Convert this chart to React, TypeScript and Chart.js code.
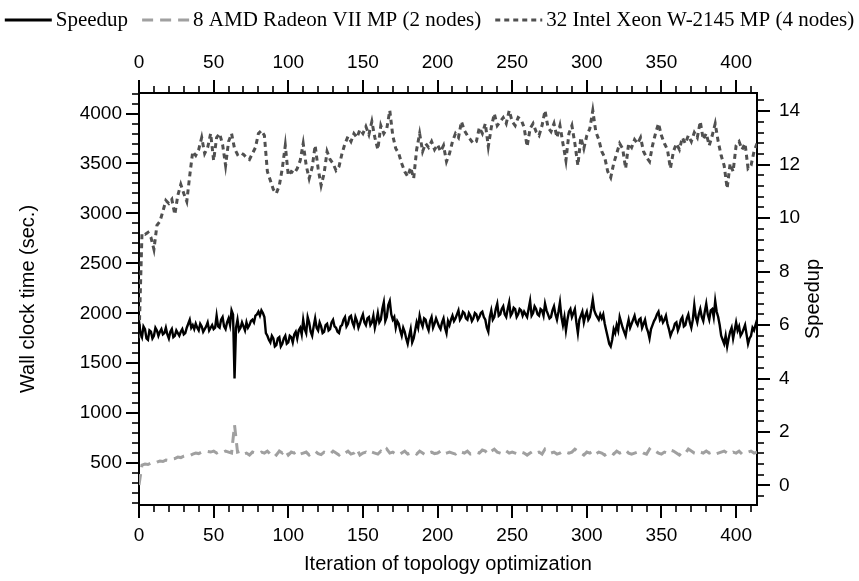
import React, { useEffect, useRef } from "react";
import { Chart, registerables } from "chart.js";

Chart.register(...registerables);

const W = 859;
const H = 581;

// ---------------- data ----------------
// wall clock times: one value every 2 iterations
const TIME_STEP = 2;

const INTEL_TIME = [
  1750, 2800, 2790, 2810, 2760, 2640, 2880, 2920, 3020, 3130,
  3100, 3140, 2990, 3180, 3290, 3200, 3120, 3380, 3620, 3580,
  3640, 3760, 3600, 3660, 3800, 3530, 3760, 3800, 3690, 3480,
  3720, 3800, 3650, 3590, 3610, 3590, 3560, 3540, 3600, 3660,
  3800, 3830, 3780, 3420, 3330, 3240, 3200, 3280, 3450, 3680,
  3380, 3420, 3400, 3450, 3530, 3700, 3480, 3350, 3460, 3680,
  3450, 3280, 3400, 3620, 3540, 3500, 3430, 3470, 3600, 3700,
  3770, 3720, 3800, 3760, 3840, 3800, 3870, 3790, 3920, 3760,
  3640, 3880, 3800, 3850, 4030, 3780, 3650, 3600, 3500, 3420,
  3370, 3460, 3350, 3640, 3800, 3620, 3700, 3660, 3720, 3640,
  3690, 3620, 3680, 3520, 3600, 3720, 3800, 3760, 3920, 3830,
  3780, 3740, 3700, 3720, 3860, 3800, 3900, 3670, 3860, 4000,
  3880, 3920, 3960, 3900, 4030, 3920, 3880, 3960, 3940, 3860,
  3670, 3850, 3900, 3820, 3780, 3880, 4030, 3860, 3820, 3900,
  3760, 3880, 3700, 3530, 3800, 3880, 3700, 3480, 3760, 3650,
  3780, 3850, 4030, 3820, 3740, 3620, 3560, 3420, 3360, 3500,
  3600, 3700, 3650, 3450, 3700, 3660, 3740, 3700, 3760, 3620,
  3560, 3520, 3680, 3800, 3900, 3780, 3700, 3640, 3450, 3620,
  3700, 3640, 3760, 3700, 3780, 3720, 3810, 3760, 3920, 3740,
  3800, 3680, 3780, 3900, 3720, 3580, 3480, 3250, 3500, 3420,
  3680, 3720, 3640, 3700, 3450, 3480, 3620, 3700,
];

const AMD_TIME = [
  280, 480, 490, 485, 500, 495, 510, 520, 515, 530,
  525, 540, 545, 560, 555, 570, 580, 575, 590, 600,
  595, 610, 605, 615, 610, 620, 600, 615, 605, 620,
  610, 600, 880, 610, 620, 590, 600, 580, 610, 600,
  595, 610, 600, 620, 590, 610, 580, 620, 600, 630,
  580, 610, 600, 620, 590, 600, 610, 580, 600, 620,
  595, 585, 610, 600, 590, 620, 600, 580, 610, 600,
  620, 590, 600, 640, 580, 600, 610, 590, 610, 600,
  590, 620, 600, 640, 600, 610, 590, 580, 600, 620,
  590, 600, 610, 590, 620, 600, 580, 600, 610, 595,
  600, 620, 590, 600, 610, 600, 590, 620, 610, 600,
  620, 590, 600, 610, 600, 630, 620, 590, 620, 640,
  610, 600, 590, 620, 600, 610, 600, 590, 610, 600,
  580, 600, 620, 600, 610, 590, 640, 620, 600, 610,
  590, 600, 620, 610, 600, 610, 640, 620, 600, 580,
  610, 600, 620, 590, 610, 600, 580, 600, 610, 590,
  620, 600, 610, 630, 600, 590, 600, 610, 620, 600,
  590, 640, 610, 620, 600, 590, 610, 600, 630, 620,
  600, 580, 610, 600, 640, 620, 600, 590, 610, 600,
  620, 600, 610, 590, 600, 610, 620, 600, 590, 610,
  600, 620, 590, 600, 610, 620, 600, 610,
];

// speedup: one value every iteration (0 .. 414)
const SPEEDUP = [
  6.15, 5.7, 5.55, 5.95, 5.85, 5.5, 5.45, 5.8, 5.75, 5.5,
  5.6, 5.9, 5.8, 5.6, 5.75, 5.85, 5.65, 5.7, 5.9, 5.65,
  5.5, 5.75, 5.85, 5.55, 5.6, 5.8, 5.7, 5.6, 5.75, 5.85,
  5.65, 5.7, 5.9, 6.05, 6.2, 5.9, 6.0, 5.85, 6.05, 5.9,
  5.8, 6.05, 5.95, 5.75, 5.85, 5.95, 6.1, 5.8, 5.9, 6.0,
  5.85, 5.9, 6.35, 5.95, 5.9, 6.2, 6.3, 5.95, 5.85, 6.1,
  6.25, 6.0, 6.55, 6.4, 4.0, 5.9, 6.2, 5.8, 5.9, 6.1,
  5.95, 5.8, 6.1, 5.9, 6.0, 6.15, 6.2, 6.1, 6.35, 6.4,
  6.5, 6.35, 6.55, 6.45, 6.3, 5.7, 5.6, 5.45, 5.35, 5.6,
  5.5, 5.2, 5.25, 5.5, 5.55, 5.2, 5.3, 5.5, 5.6, 5.3,
  5.35, 5.6, 5.55, 5.35, 5.65, 5.75, 5.5, 5.8, 5.9, 5.65,
  6.2, 5.85, 5.7, 6.3, 6.1, 5.75, 5.6, 5.95, 6.25, 5.9,
  5.8, 6.1, 5.95, 5.7, 5.75, 6.0, 6.05, 5.8, 5.85, 6.1,
  6.2, 5.95, 5.9, 5.75, 5.7, 5.95, 6.0, 6.2, 6.3, 5.95,
  6.05, 6.3, 6.35, 6.1, 5.95, 6.3, 6.15, 5.9, 6.05, 6.25,
  6.4, 6.1, 6.0, 6.25, 6.3, 6.0, 6.1, 6.35, 5.9, 6.15,
  6.45, 6.1, 6.2, 6.6, 6.85, 6.15, 6.3, 6.75, 6.9, 6.4,
  6.2, 6.3, 5.9, 6.15, 6.05, 5.8, 5.6, 5.9, 5.75, 5.5,
  5.3, 5.6, 5.85, 5.35, 5.5, 5.8, 6.1, 5.9, 6.35, 6.1,
  5.95, 6.25, 6.2, 5.95, 5.8, 6.15, 6.3, 5.9, 6.05, 6.25,
  6.1, 5.95, 5.85, 6.1, 6.25, 5.9, 5.7, 6.15, 6.0, 6.2,
  6.35, 6.15, 6.25, 6.4, 6.55, 6.2, 6.3, 6.5, 6.45, 6.25,
  6.2, 6.45, 6.35, 6.15, 6.25, 6.45, 6.4, 6.2, 6.3, 6.45,
  6.5, 6.3, 6.2, 5.9, 5.75, 6.3, 6.55, 6.2, 6.3, 6.6,
  6.8, 6.35, 6.4, 6.6, 6.7, 6.4, 6.3, 6.6, 6.85, 6.35,
  6.45, 6.65, 6.6, 6.3, 6.4, 6.6, 6.55, 6.35, 6.5, 6.4,
  6.3, 6.6, 6.9, 6.35, 6.45, 6.7, 6.6, 6.4, 6.35, 6.6,
  6.55, 6.35, 6.8, 6.55, 6.4, 6.25, 6.3, 6.55, 6.7, 6.4,
  6.2, 6.5, 6.85, 6.3, 6.0, 6.3, 5.8, 6.2, 6.5, 6.6,
  6.3, 6.45, 6.6, 6.1, 5.7, 6.2, 6.35, 6.5, 6.1, 6.35,
  6.5, 6.2, 6.3, 6.6, 6.95, 6.55, 6.4, 6.3, 6.2, 6.4,
  6.25, 6.4, 6.05, 5.8, 5.55, 5.3, 5.2, 5.45, 5.85, 5.7,
  6.0, 5.8, 6.3, 6.1, 5.9, 5.75, 5.6, 5.95, 6.2, 5.9,
  6.05, 6.2, 6.35, 6.1, 6.0, 6.2, 6.25, 5.9, 6.05, 6.2,
  5.9, 5.75, 5.5, 5.85, 6.0, 6.15, 6.25, 6.4, 6.5, 6.2,
  6.3, 6.1, 6.2, 6.35, 6.05, 5.85, 5.6, 5.75, 5.85, 6.05,
  6.1, 5.8, 5.95, 6.2, 6.3, 5.95, 6.0, 6.25, 6.4, 6.1,
  5.9, 6.2, 6.75, 6.3, 6.1, 6.4, 6.6, 6.3, 6.15, 6.5,
  6.8, 6.4, 6.2, 6.55, 6.6, 6.3, 6.9, 6.5, 6.3, 6.0,
  5.6, 5.45, 5.3, 5.6, 5.2, 5.5, 5.75, 5.9, 5.5, 5.8,
  6.1, 5.8, 5.95, 5.6, 5.7, 5.85, 6.0, 5.65, 5.3, 5.5,
  5.6, 5.9, 5.8, 6.0, 6.2,
];

const TIME_ITERATIONS = INTEL_TIME.map((_, i) => i * TIME_STEP);
const SPEEDUP_ITERATIONS = SPEEDUP.map((_, i) => i);

const SERIES_LABELS = [
  "Speedup",
  "8 AMD Radeon VII MP (2 nodes)",
  "32 Intel Xeon W-2145 MP (4 nodes)",
];

// ---------------- axes ----------------
const X_TICKS = [0, 50, 100, 150, 200, 250, 300, 350, 400];
const LEFT_TICKS = [500, 1000, 1500, 2000, 2500, 3000, 3500, 4000];
const RIGHT_TICKS = [0, 2, 4, 6, 8, 10, 12, 14];
const X_MINOR_STEP = 10;
const LEFT_MINOR_STEP = 100;
const RIGHT_MINOR_STEP = 0.4;

const X_MIN = 0;
const X_MAX = 414;
const LEFT_MIN = 80;
const LEFT_MAX = 4206;
const RIGHT_MIN = -0.73;
const RIGHT_MAX = 14.68;

const X_TITLE = "Iteration of topology optimization";
const LEFT_TITLE = "Wall clock time (sec.)";
const RIGHT_TITLE = "Speedup";

// ---------------- style ----------------
const SANS = "'Liberation Sans', Arial, Helvetica, sans-serif";
const SERIF = "'Liberation Serif', 'Times New Roman', serif";
const TICK_FONT = { family: SANS, size: 19 };
const TITLE_FONT = { family: SANS, size: 20 };
const MAJOR_LEN = 13;
const MINOR_LEN = 7;

function isMajor(v: number, majors: number[]) {
  return majors.some((m) => Math.abs(m - v) < 1e-6);
}

const decorPlugin = {
  id: "decor",
  afterDraw(chart: any) {
    const { ctx, chartArea: a, scales } = chart;
    ctx.save();
    ctx.strokeStyle = "#000";
    ctx.lineCap = "butt";
    const sets = [
      { scale: scales.x, majors: X_TICKS, step: X_MINOR_STEP, side: "bottom" },
      { scale: scales.x2, majors: X_TICKS, step: X_MINOR_STEP, side: "top" },
      { scale: scales.y, majors: LEFT_TICKS, step: LEFT_MINOR_STEP, side: "left" },
      { scale: scales.y2, majors: RIGHT_TICKS, step: RIGHT_MINOR_STEP, side: "right" },
    ];
    for (const s of sets) {
      const k0 = Math.ceil(s.scale.min / s.step - 1e-6);
      const k1 = Math.floor(s.scale.max / s.step + 1e-6);
      for (let k = k0; k <= k1; k++) {
        const v = k * s.step;
        const major = isMajor(v, s.majors);
        const len = major ? MAJOR_LEN : MINOR_LEN;
        ctx.lineWidth = major ? 2 : 1.6;
        const p = Math.round(s.scale.getPixelForValue(v));
        ctx.beginPath();
        if (s.side === "bottom") {
          ctx.moveTo(p, a.bottom);
          ctx.lineTo(p, a.bottom + len);
        } else if (s.side === "top") {
          ctx.moveTo(p, a.top);
          ctx.lineTo(p, a.top - len);
        } else if (s.side === "left") {
          ctx.moveTo(a.left, p);
          ctx.lineTo(a.left - len, p);
        } else {
          ctx.moveTo(a.right, p);
          ctx.lineTo(a.right + len, p);
        }
        ctx.stroke();
      }
    }

    // right axis title (reads bottom to top)
    ctx.save();
    ctx.fillStyle = "#000";
    ctx.font = `${TITLE_FONT.size}px ${SANS}`;
    ctx.textAlign = "center";
    ctx.textBaseline = "middle";
    ctx.translate(813, (a.top + a.bottom) / 2);
    ctx.rotate(-Math.PI / 2);
    ctx.fillText(RIGHT_TITLE, 0, 0);
    ctx.restore();

    // legend across the top
    ctx.font = `21px ${SERIF}`;
    const sample = 47;
    const gapText = 4;
    const gapItem = 14;
    const ds = chart.data.datasets;
    const widths = ds.map((d: any) => ctx.measureText(d.label).width);
    const total =
      widths.reduce((s: number, w: number) => s + w + sample + gapText, 0) +
      gapItem * (ds.length - 1);
    let x = (W - total) / 2;
    const y = 20;
    ds.forEach((d: any, i: number) => {
      ctx.save();
      ctx.strokeStyle = d.borderColor;
      ctx.lineWidth = 3;
      ctx.setLineDash(d.borderDash || []);
      ctx.beginPath();
      ctx.moveTo(x, y);
      ctx.lineTo(x + sample, y);
      ctx.stroke();
      ctx.restore();
      ctx.fillStyle = "#000";
      ctx.textAlign = "left";
      ctx.textBaseline = "middle";
      ctx.fillText(d.label, x + sample + gapText, y);
      x += sample + gapText + widths[i] + gapItem;
    });
    ctx.restore();
  },
};

function axisCommon(ticks: number[], pad: number) {
  return {
    type: "linear",
    afterBuildTicks: (s: any) => {
      s.ticks = ticks.map((v) => ({ value: v }));
    },
    grid: { display: false, drawTicks: false },
    border: { display: true, color: "#000", width: 2 },
    ticks: {
      font: TICK_FONT,
      color: "#000",
      padding: pad,
      maxRotation: 0,
      autoSkip: false,
      callback: (v: any) => String(v),
    },
  };
}

export default function App() {
  const ref = useRef<HTMLCanvasElement | null>(null);

  useEffect(() => {
    if (!ref.current) return;
    const pts = (xs: number[], vals: number[]) => vals.map((v, i) => ({ x: xs[i], y: v }));
    const chart = new Chart(ref.current, {
      type: "line",
      data: {
        datasets: [
          {
            label: SERIES_LABELS[0],
            data: pts(SPEEDUP_ITERATIONS, SPEEDUP),
            yAxisID: "y2",
            xAxisID: "x",
            borderColor: "#000000",
            borderWidth: 2.4,
            pointRadius: 0,
            tension: 0,
          },
          {
            label: SERIES_LABELS[1],
            data: pts(TIME_ITERATIONS, AMD_TIME),
            yAxisID: "y",
            xAxisID: "x",
            borderColor: "#a0a0a0",
            borderWidth: 3,
            borderDash: [11, 7],
            pointRadius: 0,
            tension: 0,
          },
          {
            label: SERIES_LABELS[2],
            data: pts(TIME_ITERATIONS, INTEL_TIME),
            yAxisID: "y",
            xAxisID: "x",
            borderColor: "#505050",
            borderWidth: 3,
            borderDash: [5, 4],
            pointRadius: 0,
            tension: 0,
          },
        ],
      },
      options: {
        animation: false,
        responsive: false,
        devicePixelRatio: 1,
        layout: { padding: 0 },
        plugins: {
          legend: { display: false },
          tooltip: { enabled: false },
        },
        scales: {
          x: {
            ...axisCommon(X_TICKS, 19),
            position: "bottom",
            min: X_MIN,
            max: X_MAX,
            afterFit: (s: any) => {
              s.height = 76;
            },
            title: {
              display: true,
              text: X_TITLE,
              font: TITLE_FONT,
              color: "#000",
              padding: { top: 0, bottom: 5 },
            },
          },
          x2: {
            ...axisCommon(X_TICKS, 19),
            position: "top",
            min: X_MIN,
            max: X_MAX,
            afterFit: (s: any) => {
              s.height = 93;
            },
          },
          y: {
            ...axisCommon(LEFT_TICKS, 17),
            position: "left",
            min: LEFT_MIN,
            max: LEFT_MAX,
            afterFit: (s: any) => {
              s.width = 139;
            },
            title: {
              display: true,
              text: LEFT_TITLE,
              font: TITLE_FONT,
              color: "#000",
              padding: { top: 16, bottom: 0 },
            },
          },
          y2: {
            ...axisCommon(RIGHT_TICKS, 22),
            position: "right",
            min: RIGHT_MIN,
            max: RIGHT_MAX,
            afterFit: (s: any) => {
              s.width = 102;
            },
          },
        },
      },
      plugins: [decorPlugin],
    } as any);
    return () => chart.destroy();
  }, []);

  return (
    <div
      style={{
        position: "fixed",
        left: 0,
        top: 0,
        width: W,
        height: H,
        background: "#fff",
      }}
    >
      <canvas
        ref={ref}
        width={W}
        height={H}
        style={{ display: "block", width: W, height: H }}
      />
    </div>
  );
}
